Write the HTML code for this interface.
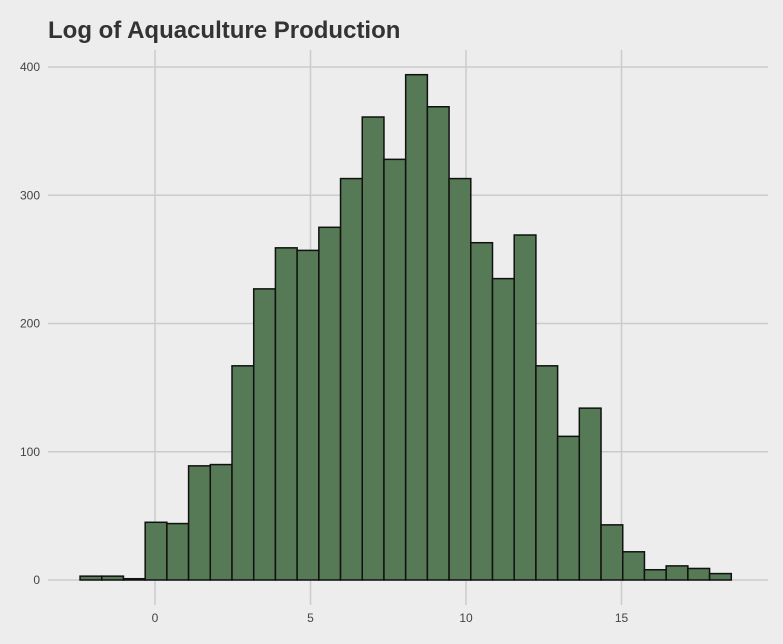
<!DOCTYPE html>
<html><head><meta charset="utf-8"><style>
body{margin:0;background:#ededed;}
svg{display:block;font-family:"Liberation Sans",sans-serif;}
</style></head><body>
<svg width="783" height="644" id="c">
<rect width="783" height="644" fill="#ededed"/>
<text x="48" y="38" font-size="24" font-weight="bold" fill="#333">Log of Aquaculture Production</text>
<g id="grid"></g><g id="bars"></g><g id="axes"></g>
</svg>
<script>
const counts=[3,3,1,45,44,89,90,167,227,259,257,275,313,361,328,394,369,313,263,235,269,167,112,134,43,22,8,11,9,5];
const binStart=-2.41;
const binWidth=0.698;
const xTicks=[0,5,10,15];
const yTicks=[0,100,200,300,400];
const ns="http://www.w3.org/2000/svg";
const xs=v=>155+v*31.1, ys=v=>580-v*1.2825;
function mk(t,a,p){const e=document.createElementNS(ns,t);for(const k in a)e.setAttribute(k,a[k]);p.appendChild(e);return e;}
const g=document.getElementById('grid'),b=document.getElementById('bars'),ax=document.getElementById('axes');
yTicks.forEach(v=>{const l=mk('line',{x1:48,x2:768,y1:ys(v),y2:ys(v),stroke:'#cbcbcb','stroke-width':1.5},g);


const t=mk('text',{x:40,y:ys(v)+4,'text-anchor':'end','font-size':12,fill:'#444'},ax);t.textContent=v;

});
xTicks.forEach(v=>{const l=mk('line',{x1:xs(v),x2:xs(v),y1:50,y2:605,stroke:'#cbcbcb','stroke-width':1.5},g);


const t=mk('text',{x:xs(v),y:622,'text-anchor':'middle','font-size':12,fill:'#444'},ax);t.textContent=v;

});
counts.forEach((c,i)=>{const x0=xs(binStart+i*binWidth),x1=xs(binStart+(i+1)*binWidth);
const r=mk('rect',{x:x0,y:ys(c),width:x1-x0,height:ys(0)-ys(c),fill:'#557a55',stroke:'#111','stroke-width':1.5},b);

});
</script>
</body></html>
